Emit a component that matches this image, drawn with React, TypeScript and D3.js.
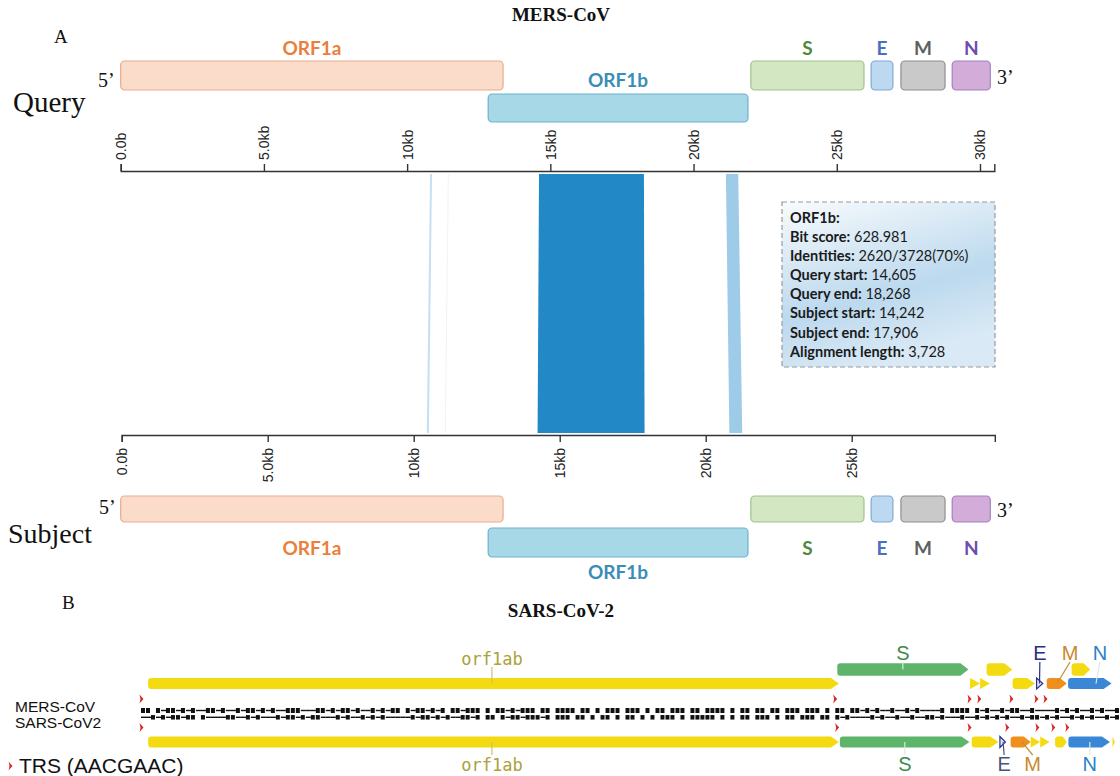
import React, { useEffect, useRef } from "react";
import * as d3 from "d3";

// ---------- panel A : MERS-CoV query vs subject ----------
const queryTicks = [0, 5, 10, 15, 20, 25, 30];
const queryTickLabels = ["0.0b", "5.0kb", "10kb", "15kb", "20kb", "25kb", "30kb"];
const subjectTicks = [0, 5, 10, 15, 20, 25];
const subjectTickLabels = ["0.0b", "5.0kb", "10kb", "15kb", "20kb", "25kb"];
const queryLenKb = 30.5;
const subjectLenKb = 29.9;

const geneNames = ["ORF1a", "ORF1b", "S", "E", "M", "N"];
const geneStart = [0, 12.83, 22.0, 26.2, 27.24, 29.03];
const geneEnd = [13.35, 21.9, 25.95, 26.96, 28.78, 30.36];
const geneLane = [0, 1, 0, 0, 0, 0];

// blast hits (kb)
const alnQueryStart = [10.8, 11.42, 14.605, 21.13];
const alnQueryEnd = [10.87, 11.46, 18.268, 21.56];
const alnSubjectStart = [10.45, 11.06, 14.242, 20.81];
const alnSubjectEnd = [10.52, 11.1, 17.906, 21.25];

const hitTitle = "ORF1b:";
const hitLabels = ["Bit score:", "Identities:", "Query start:", "Query end:", "Subject start:", "Subject end:", "Alignment length:"];
const hitValues = ["628.981", "2620/3728(70%)", "14,605", "18,268", "14,242", "17,906", "3,728"];

// ---------- panel B : SARS-CoV-2 vs MERS-CoV ----------
const mersGeneName = ["orf1ab", "S", "ORF3", "ORF4a", "ORF4b", "ORF5", "E", "M", "ORF8b", "N"];
const mersGeneStart = [0.27, 21.5, 25.59, 25.9, 26.1, 26.9, 27.64, 27.95, 28.72, 28.61];
const mersGeneEnd = [21.55, 25.54, 25.9, 26.2, 26.89, 27.59, 27.83, 28.57, 29.29, 29.95];
const mersGeneLane = [1, 0, 1, 1, 0, 1, 1, 1, 0, 1];

const sarsGeneName = ["orf1ab", "S", "ORF3a", "E", "M", "ORF6", "ORF7a", "ORF8", "N", "ORF10"];
const sarsGeneStart = [0.27, 21.58, 25.64, 26.51, 26.84, 27.46, 27.75, 28.21, 28.62, 29.98];
const sarsGeneEnd = [21.55, 25.57, 26.46, 26.68, 27.46, 27.75, 28.04, 28.57, 29.9, 30.05];

const mersTrs = [0.05, 21.42, 25.56, 25.86, 26.85, 27.62, 27.9];
const sarsTrs = [0.05, 21.48, 25.56, 26.72, 27.65, 28.14, 28.57];

const labelNames = ["orf1ab", "S", "E", "M", "N"];
const mersLabelKb = [10.86, 23.52, 27.74, 28.67, 29.59];
const mersAnchorKb = [10.86, 23.52, 27.73, 28.27, 29.47];
const sarsLabelKb = [10.86, 23.58, 26.64, 27.52, 29.28];
const sarsAnchorKb = [10.86, 23.58, 26.61, 27.19, 29.28];

// alignment strips: # = aligned block, - = thin line, . = gap
const mersStrip =
  "##.#-##-#-" + "#--##-#--#" + "-##-#-#--#" + "##---##-#-" + "##-#--#-#-" + "##.#-##-#-" + "#.##-###.#" + ".##-#-###." + "##.#" +
  "###.##.#.#" + "##.###.#.#" + "#.###.##.#" + "###.#.##.#" + "#.##.###.#" + "##.#.#" +
  "#.##-#-#--" + "#--#-#----" + "#.####.#-#" + "--#-##--#-" + "---#-#-#--" + "#-#--#";
const sarsStrip =
  "--#-#-##-#" + "#.#----##-" + "-#-#---#-#" + "#-#-##---#" + "-#--#-#-#-" + "----#-##-#" + "-#--##-#.#" + "#.#-##-###" + "-#.#" +
  "##.##.#.##" + ".#.##.#.#." + "###.#.####" + "#.#.#.##.#" + "##.#.##.##" + "#.##.#" +
  "-#----#-#-" + "-#--#--##-" + "#---#--#-#" + "-#-#--#-##" + "-#-#--#-#-" + "#--#-#";

// ---------- styles ----------
const boxStyle: Record<string, { fill: string; stroke: string; text: string }> = {
  ORF1a: { fill: "#fbdccb", stroke: "#e9ab8b", text: "#ea7f3b" },
  ORF1b: { fill: "#a6d8e7", stroke: "#6fb2cb", text: "#3a8db6" },
  S: { fill: "#d3e8c2", stroke: "#9cc48a", text: "#4f8a3b" },
  E: { fill: "#bcd9f1", stroke: "#7eaad6", text: "#4b6fc2" },
  M: { fill: "#c9c9c9", stroke: "#8e8e8e", text: "#606060" },
  N: { fill: "#d3acd9", stroke: "#9f82c2", text: "#6d4cb0" },
};
const bFill: Record<string, string> = { orf1ab: "#f4da10", S: "#5db46a", M: "#f18f1d", N: "#3a87d6", E: "#dfe4f6" };
const bLabelColor: Record<string, string> = { orf1ab: "#aaa23a", S: "#3f8a50", E: "#2b2d8c", M: "#c98a2f", N: "#2c80c6" };
const trsColor = "#d62a26";

const xQ = d3.scaleLinear().domain([0, queryLenKb]).range([120.7, 994.3]);
const xSub = d3.scaleLinear().domain([0, subjectLenKb]).range([121.7, 994.8]);
const xGene = xQ;
const xB = d3.scaleLinear().domain([0, 30]).range([139.4, 1113.2]);

const laneQ = [{ y: 61, h: 29, ly: 55 }, { y: 94, h: 28, ly: 87 }];
const laneSub = [{ y: 496, h: 26, ly: 555 }, { y: 528, h: 29, ly: 579 }];

function genePath(x0: number, x1: number, yc: number, h: number) {
  const w = x1 - x0;
  if (w < 11) return `M${x0},${yc - h / 2}L${x1},${yc}L${x0},${yc + h / 2}Z`;
  const tip = Math.min(8, w * 0.35);
  const r = 3;
  const t = yc - h / 2, b = yc + h / 2;
  return `M${x0 + r},${t}L${x1 - tip},${t}L${x1},${yc}L${x1 - tip},${b}L${x0 + r},${b}Q${x0},${b} ${x0},${b - r}L${x0},${t + r}Q${x0},${t} ${x0 + r},${t}Z`;
}

function trsPath(x: number, yc: number) {
  return `M${x - 1.5},${yc - 4.5}L${x + 2.5},${yc}L${x - 1.5},${yc + 4.5}Q${x + 0.3},${yc} ${x - 1.5},${yc - 4.5}Z`;
}

function Strip({ pattern, yc, h }: { pattern: string; yc: number; h: number }) {
  const cell = d3.scaleLinear().domain([0, pattern.length]).range([141, 1120]);
  const cw = cell(1) - cell(0);
  return (
    <g>
      {pattern.split("").map((c, i) => {
        if (c === "#") return <rect key={i} x={cell(i)} y={yc - h / 2} width={cw - 1} height={h} fill="#111" />;
        if (c === "-") return <rect key={i} x={cell(i)} y={yc - 0.7} width={cw} height={1.4} fill="#111" />;
        return null;
      })}
    </g>
  );
}

function GeneTrackB({ names, starts, ends, lanes }: { names: string[]; starts: number[]; ends: number[]; lanes: number[][] }) {
  return (
    <g>
      {names.map((n, i) => {
        const [yc, h] = lanes[i];
        const x0 = xB(starts[i]);
        const x1 = xB(ends[i]);
        const isE = n === "E";
        return (
          <path
            key={n}
            d={genePath(x0, x1, yc, h)}
            fill={isE ? bFill.E : bFill[n] || bFill.orf1ab}
            stroke={isE ? "#2b2d8c" : "none"}
            strokeWidth={isE ? 1.2 : 0}
          />
        );
      })}
    </g>
  );
}

export default function App() {
  const qAxisRef = useRef<SVGGElement>(null);
  const sAxisRef = useRef<SVGGElement>(null);

  useEffect(() => {
    const qa = d3
      .axisTop(xQ)
      .tickValues(queryTicks)
      .tickFormat((_d, i) => queryTickLabels[i])
      .tickSize(7)
      .tickSizeOuter(7);
    const gq = d3.select(qAxisRef.current!).call(qa as any);
    gq.attr("font-size", 14).attr("font-family", "Liberation Sans, Arial, sans-serif");
    gq.select(".domain").attr("stroke", "#333").attr("stroke-width", 1.4);
    gq.selectAll(".tick line").attr("stroke", "#333").attr("stroke-width", 1.4);
    gq.selectAll(".tick text")
      .attr("transform", "rotate(-90)")
      .attr("x", 11)
      .attr("y", 0)
      .attr("dy", "0.35em")
      .attr("fill", "#222")
      .style("text-anchor", "start");

    const sa = d3
      .axisBottom(xSub)
      .tickValues(subjectTicks)
      .tickFormat((_d, i) => subjectTickLabels[i])
      .tickSize(7)
      .tickSizeOuter(7);
    const gs = d3.select(sAxisRef.current!).call(sa as any);
    gs.attr("font-size", 14).attr("font-family", "Liberation Sans, Arial, sans-serif");
    gs.select(".domain").attr("stroke", "#333").attr("stroke-width", 1.4);
    gs.selectAll(".tick line").attr("stroke", "#333").attr("stroke-width", 1.4);
    gs.selectAll(".tick text")
      .attr("transform", "rotate(-90)")
      .attr("x", -13)
      .attr("y", 0)
      .attr("dy", "0.35em")
      .attr("fill", "#222")
      .style("text-anchor", "end");
  }, []);

  const alnColors = ["#c4e0f2", "#eef6fb", "#2389c6", "#9ecbe8"];
  const serif = "Liberation Serif, Times New Roman, serif";
  const labelFont = "Lato, Carlito, sans-serif";

  // panel B lane geometry: [center y, height]
  const mersLanes = [[669.5, 12.5], [683.5, 11]];
  const sarsLane = [742, 11];

  return (
    <svg width={1120} height={776} style={{ position: "absolute", left: 0, top: 0, background: "#fff" }}>
      <defs>
        <linearGradient id="tipFill" x1="0" y1="0" x2="0.35" y2="1">
          <stop offset="0" stopColor="#f8fbfd" />
          <stop offset="0.65" stopColor="#bcd9ee" />
          <stop offset="1" stopColor="#d9e9f5" />
        </linearGradient>
      </defs>

      {/* ---------------- Panel A ---------------- */}
      <text x={54} y={43} fontFamily={serif} fontSize={19} fill="#111">A</text>
      <text x={561} y={21} fontFamily={serif} fontSize={19} fontWeight={700} textAnchor="middle" fill="#111">MERS-CoV</text>

      <text x={13} y={112} fontFamily={serif} fontSize={29} fill="#111">Query</text>
      <text x={98} y={87} fontFamily={serif} fontSize={20} fill="#111">5’</text>
      <text x={997} y={84} fontFamily={serif} fontSize={20} fill="#111">3’</text>

      {geneNames.map((n, i) => {
        const L = laneQ[geneLane[i]];
        const st = boxStyle[n];
        const x0 = xGene(geneStart[i]);
        const x1 = xGene(geneEnd[i]);
        return (
          <g key={"q" + n}>
            <rect x={x0} y={L.y} width={x1 - x0} height={L.h} rx={4} fill={st.fill} stroke={st.stroke} strokeWidth={1.2} />
            <text x={(x0 + x1) / 2} y={L.ly} textAnchor="middle" fontFamily={labelFont} fontWeight={700} fontSize={19} fill={st.text}>{n}</text>
          </g>
        );
      })}

      <g ref={qAxisRef} transform="translate(0,171)" />

      {alnQueryStart.map((qs, i) => {
        const pts = [
          [xQ(qs), 174],
          [xQ(alnQueryEnd[i]), 174],
          [xSub(alnSubjectEnd[i]), 433],
          [xSub(alnSubjectStart[i]), 433],
        ];
        return <polygon key={"a" + i} points={pts.map((p) => p.join(",")).join(" ")} fill={alnColors[i]} />;
      })}

      <g ref={sAxisRef} transform="translate(0,435)" />

      {/* hit info box */}
      <rect x={782} y={202} width={213} height={165} fill="url(#tipFill)" stroke="#9a9a9a" strokeWidth={1.2} strokeDasharray="5,3" />
      <text x={790} y={223} fontFamily={labelFont} fontWeight={700} fontSize={14.5} fill="#1a1a1a">{hitTitle}</text>
      {hitLabels.map((l, i) => (
        <text key={"h" + i} x={790} y={242 + i * 19.1} fontFamily={labelFont} fontSize={14.5} fill="#1a1a1a">
          <tspan fontWeight={700}>{l}</tspan>
          <tspan> {hitValues[i]}</tspan>
        </text>
      ))}

      <text x={8} y={543} fontFamily={serif} fontSize={28} fill="#111">Subject</text>
      <text x={99} y={514} fontFamily={serif} fontSize={20} fill="#111">5’</text>
      <text x={997} y={517} fontFamily={serif} fontSize={20} fill="#111">3’</text>

      {geneNames.map((n, i) => {
        const L = laneSub[geneLane[i]];
        const st = boxStyle[n];
        const x0 = xGene(geneStart[i]);
        const x1 = xGene(geneEnd[i]);
        return (
          <g key={"s" + n}>
            <rect x={x0} y={L.y} width={x1 - x0} height={L.h} rx={4} fill={st.fill} stroke={st.stroke} strokeWidth={1.2} />
            <text x={(x0 + x1) / 2} y={L.ly} textAnchor="middle" fontFamily={labelFont} fontWeight={700} fontSize={19} fill={st.text}>{n}</text>
          </g>
        );
      })}

      {/* ---------------- Panel B ---------------- */}
      <text x={62} y={609} fontFamily={serif} fontSize={19} fill="#111">B</text>
      <text x={561} y={617} fontFamily={serif} fontSize={19} fontWeight={700} textAnchor="middle" fill="#111">SARS-CoV-2</text>

      <GeneTrackB names={mersGeneName} starts={mersGeneStart} ends={mersGeneEnd} lanes={mersGeneLane.map((l) => mersLanes[l])} />
      <GeneTrackB names={sarsGeneName} starts={sarsGeneStart} ends={sarsGeneEnd} lanes={sarsGeneName.map(() => sarsLane)} />

      {mersTrs.map((k, i) => <path key={"mt" + i} d={trsPath(xB(k), 699)} fill={trsColor} />)}
      {sarsTrs.map((k, i) => <path key={"st" + i} d={trsPath(xB(k), 727.5)} fill={trsColor} />)}

      <Strip pattern={mersStrip} yc={710.5} h={5} />
      <Strip pattern={sarsStrip} yc={717.3} h={4.5} />

      {labelNames.map((n, i) => {
        const isOrf = n === "orf1ab";
        const lx = xB(mersLabelKb[i]);
        const ax = xB(mersAnchorKb[i]);
        const gy = n === "S" ? 669.5 : 683.5;
        const ty = isOrf ? 665 : 660;
        return (
          <g key={"ml" + n}>
            <line x1={lx} y1={ty + 2} x2={ax} y2={gy} stroke={n === "E" ? "#2b2d8c" : n === "orf1ab" ? "#c9c26a" : n === "M" ? "#c98a2f" : "#dfe9dd"} strokeWidth={1.2} />
            <text x={lx} y={ty} textAnchor="middle" fontFamily={isOrf ? "DejaVu Sans Mono, monospace" : "Liberation Sans, Arial, sans-serif"} fontSize={isOrf ? 17 : 20} fill={bLabelColor[n]}>{n}</text>
          </g>
        );
      })}
      {labelNames.map((n, i) => {
        const isOrf = n === "orf1ab";
        const lx = xB(sarsLabelKb[i]);
        const ax = xB(sarsAnchorKb[i]);
        const ty = 771;
        return (
          <g key={"sl" + n}>
            <line x1={ax} y1={742} x2={lx} y2={ty - 16} stroke={n === "E" ? "#4a5575" : n === "orf1ab" ? "#c9c26a" : n === "M" ? "#c98a2f" : "#dfe9dd"} strokeWidth={1.2} />
            <text x={lx} y={ty} textAnchor="middle" fontFamily={isOrf ? "DejaVu Sans Mono, monospace" : "Liberation Sans, Arial, sans-serif"} fontSize={isOrf ? 17 : 20} fill={n === "E" ? "#4a5575" : bLabelColor[n]}>{n}</text>
          </g>
        );
      })}

      <text x={15} y={712} fontFamily="Liberation Sans, Arial, sans-serif" fontSize={15.5} fill="#111">MERS-CoV</text>
      <text x={15} y={728} fontFamily="Liberation Sans, Arial, sans-serif" fontSize={15.5} fill="#111">SARS-CoV2</text>

      <path d={trsPath(10, 766)} fill={trsColor} />
      <text x={19} y={773} fontFamily="Liberation Sans, Arial, sans-serif" fontSize={21} fill="#111">TRS (AACGAAC)</text>
    </svg>
  );
}
